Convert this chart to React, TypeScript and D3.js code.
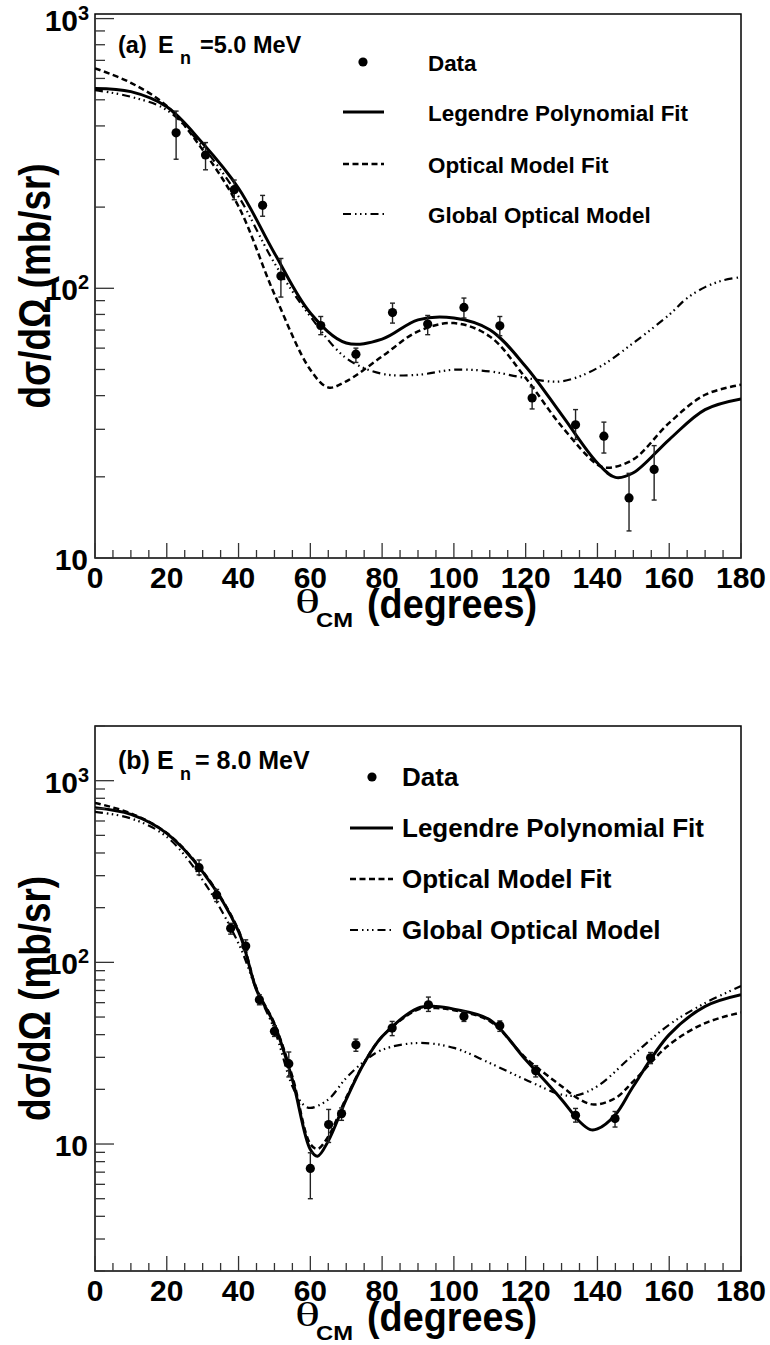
import * as d3 from 'd3';
import React from 'react';

// ---- panel (a): En = 5.0 MeV ----
const dataAngles5 = [22.6, 30.8, 38.8, 46.7, 51.8, 62.9, 72.7, 82.9, 92.7, 102.8, 112.8, 121.8, 133.9, 141.8, 148.8, 155.8];
const dataValues5 = [377, 312, 232, 203, 111, 72.8, 57.0, 81.3, 73.7, 84.9, 72.6, 39.2, 31.2, 28.3, 16.7, 21.3];
const dataHi5 = [454, 347, 252, 221, 129, 78.6, 60.0, 88.1, 79.3, 92, 78.6, 43.1, 35.5, 31.9, 20.6, 26.1];
const dataLo5 = [301, 275, 213, 185, 92.8, 67.3, 53.1, 74.3, 67.3, 77.6, 66.7, 35.7, 27.5, 24.5, 12.6, 16.4];

const legAngles5 = [0, 10, 20, 30, 40, 50, 60, 70, 80, 90, 100, 110, 120, 130, 140, 145, 150, 160, 170, 180];
const legValues5 = [551, 536, 471, 345, 235, 135, 81, 62.7, 64.8, 76.4, 77.6, 70.2, 51.3, 34.0, 22.5, 19.9, 20.7, 27.5, 35.5, 38.9];

const omAngles5 = [0, 10, 20, 30, 40, 50, 60, 65, 70, 80, 90, 100, 110, 120, 130, 140, 143, 150, 160, 170, 180];
const omValues5 = [654, 578, 474, 326, 201, 95, 49.9, 42.9, 45.2, 55.9, 69.2, 74.3, 66.3, 46.5, 30.8, 22.2, 21.6, 23.2, 31.7, 40.3, 43.9];

const gomAngles5 = [0, 10, 20, 30, 40, 50, 60, 70, 80, 90, 100, 110, 120, 130, 140, 150, 160, 165, 170, 175, 180];
const gomValues5 = [543, 513, 458, 335, 219, 124, 78.6, 55.1, 48.2, 47.8, 49.9, 49.2, 46.5, 45.2, 50.6, 62.7, 79.8, 92, 101, 107, 110];

// ---- panel (b): En = 8.0 MeV ----
const dataAngles8 = [29.0, 33.9, 37.8, 42.0, 45.8, 50.0, 54.0, 60.0, 65.1, 68.7, 72.7, 82.8, 92.9, 102.8, 112.8, 122.8, 133.9, 144.9, 154.8];
const dataValues8 = [332, 235, 154, 123, 62.2, 41.7, 27.7, 7.34, 12.8, 14.7, 35.2, 43.5, 58.4, 50.4, 44.8, 25.3, 14.4, 13.8, 29.8];
const dataHi8 = [366, 252, 164, 133, 66.3, 44.8, 32.1, 8.95, 15.5, 15.8, 37.8, 47.3, 64.4, 53.7, 47.6, 27.0, 15.7, 15.1, 31.9];
const dataLo8 = [303, 216, 143, 116, 58.4, 39.1, 23.4, 5.0, 10.2, 13.5, 32.4, 39.5, 53.7, 47.3, 41.7, 23.4, 13.2, 12.4, 27.7];

const legAngles8 = [0, 10, 20, 30, 40, 45, 50, 55, 60, 62, 65, 70, 75, 80, 90, 95, 100, 110, 120, 130, 135, 138, 140, 145, 150, 160, 170, 180];
const legValues8 = [709, 652, 513, 315, 148, 70.6, 45.4, 22.6, 9.33, 8.57, 10.4, 17.6, 27.9, 39.1, 56.0, 57.2, 55.3, 48.3, 29.1, 17.6, 13.3, 12.0, 12.1, 14.5, 20.8, 40.0, 57.2, 66.3];

const omAngles8 = [0, 10, 20, 30, 40, 45, 50, 55, 60, 62, 65, 70, 75, 80, 90, 95, 100, 110, 120, 130, 135, 139, 145, 150, 160, 170, 180];
const omValues8 = [755, 661, 515, 318, 150, 72, 46, 23.5, 10.0, 9.4, 11.0, 18, 28, 39, 55, 56, 54.5, 47.5, 29.8, 20.8, 17.6, 16.5, 17.9, 22.1, 35.2, 46.3, 53.0];

const gomAngles8 = [0, 10, 20, 30, 40, 45, 50, 55, 58, 60, 65, 70, 75, 80, 90, 100, 110, 120, 130, 134, 140, 150, 160, 170, 180];
const gomValues8 = [674, 620, 491, 284, 127, 70.6, 42.6, 20.8, 16.5, 15.8, 17.6, 23.1, 28.5, 33.0, 36.0, 33.8, 27.9, 22.6, 18.7, 18.5, 20.8, 31.0, 45.4, 59.7, 74];

const legendLabels = ["Data", "Legendre Polynomial Fit", "Optical Model Fit", "Global Optical Model"];
const xTickValues = [0, 20, 40, 60, 80, 100, 120, 140, 160, 180];
const yTickValues = [10, 100, 1000];

const FONT = "'Liberation Sans', Arial, Helvetica, sans-serif";
const SERIF = "'Liberation Serif', 'Times New Roman', serif";

const lineStyles = [
  { dash: "", width: 3 },
  { dash: "6 3.5", width: 2.5 },
  { dash: "8 4 1.5 3.5 1.5 3.5 1.5 4", width: 2.2 },
];

function Panel(props: any) {
  const { id, top, bottom, yDomain, data, curves, label, legend } = props;
  const left = 95;
  const right = 741;

  const x = d3.scaleLinear().domain([0, 180]).range([left, right]);
  const y = d3.scaleLog().domain(yDomain).range([bottom, top]);

  const line = d3.line<[number, number]>()
    .x(d => x(d[0]))
    .y(d => y(d[1]))
    .curve(d3.curveCatmullRom.alpha(0.5));

  // log ticks
  const yMajor: number[] = [];
  const yMinor: number[] = [];
  const lo = Math.floor(Math.log10(yDomain[0]));
  const hi = Math.ceil(Math.log10(yDomain[1]));
  for (let e = lo; e <= hi; e++) {
    for (let k = 1; k <= 9; k++) {
      const v = k * Math.pow(10, e);
      if (v < yDomain[0] * 0.999 || v > yDomain[1] * 1.001) continue;
      if (k === 1) yMajor.push(v); else yMinor.push(v);
    }
  }
  const xMinor = d3.range(0, 181, 5).filter(v => v % 20 !== 0);

  return (
    <g>
      <defs>
        <clipPath id={"clip-" + id}>
          <rect x={left} y={top} width={right - left} height={bottom - top} />
        </clipPath>
      </defs>

      {/* curves */}
      <g clipPath={`url(#clip-${id})`} fill="none" stroke="#000">
        {curves.map((c: any, i: number) => (
          <path
            key={i}
            d={line(c.angles.map((a: number, j: number) => [a, c.values[j]]) as [number, number][]) || ""}
            strokeWidth={lineStyles[i].width}
            strokeDasharray={lineStyles[i].dash}
            strokeLinejoin="round"
          />
        ))}
      </g>

      {/* data with error bars */}
      <g>
        {data.angles.map((a: number, i: number) => (
          <g key={i}>
            <line x1={x(a)} x2={x(a)} y1={y(data.hi[i])} y2={y(data.lo[i])} stroke="#222" strokeWidth={1.4} />
            <line x1={x(a) - 2.5} x2={x(a) + 2.5} y1={y(data.hi[i])} y2={y(data.hi[i])} stroke="#222" strokeWidth={1.4} />
            <line x1={x(a) - 2.5} x2={x(a) + 2.5} y1={y(data.lo[i])} y2={y(data.lo[i])} stroke="#222" strokeWidth={1.4} />
            <circle cx={x(a)} cy={y(data.values[i])} r={4.6} fill="#000" />
          </g>
        ))}
      </g>

      {/* frame */}
      <rect x={left} y={top} width={right - left} height={bottom - top} fill="none" stroke="#000" strokeWidth={1.5} />

      {/* y ticks */}
      <g stroke="#333" strokeWidth={1.3}>
        {yMajor.map(v => <line key={"M" + v} x1={left} x2={left + 19} y1={y(v)} y2={y(v)} />)}
        {yMinor.map(v => <line key={"m" + v} x1={left} x2={left + 10} y1={y(v)} y2={y(v)} />)}
      </g>
      {/* x ticks */}
      <g stroke="#333" strokeWidth={1.3}>
        {xTickValues.map(v => <line key={"M" + v} x1={x(v)} x2={x(v)} y1={bottom} y2={bottom - 15} />)}
        {xMinor.map(v => <line key={"m" + v} x1={x(v)} x2={x(v)} y1={bottom} y2={bottom - 8} />)}
      </g>

      {/* tick labels */}
      <g fontFamily={FONT} fontWeight="bold" fill="#000">
        {xTickValues.map(v => (
          <text key={v} x={x(v)} y={bottom + 30} fontSize={30} textAnchor="middle">{v}</text>
        ))}
        {yTickValues.map(v => {
          const e = Math.round(Math.log10(v));
          if (e === 1) {
            return <text key={v} x={left - 7} y={y(v) + 12} fontSize={30} textAnchor="end">10</text>;
          }
          return (
            <g key={v}>
              <text x={left - 17} y={y(v) + 12} fontSize={30} textAnchor="end">10</text>
              <text x={left - 17} y={y(v) + 1} fontSize={20}>{e}</text>
            </g>
          );
        })}
      </g>

      {/* axis titles */}
      <g fontFamily={FONT} fontWeight="bold" fill="#000">
        <text
          transform={`translate(50,${(top + bottom) / 2}) rotate(-90)`}
          fontSize={44}
          textAnchor="middle"
          textLength={245}
          lengthAdjust="spacingAndGlyphs"
        >dσ/dΩ (mb/sr)</text>
        <text x={295} y={bottom + 55} fontFamily={SERIF} fontWeight="normal" fontSize={34} textLength={25} lengthAdjust="spacingAndGlyphs">θ</text>
        <text x={316} y={bottom + 69} fontSize={20} textLength={37} lengthAdjust="spacingAndGlyphs">CM</text>
        <text x={367} y={bottom + 60} fontSize={40} textLength={170} lengthAdjust="spacingAndGlyphs">(degrees)</text>
      </g>

      {/* panel label */}
      <g fontFamily={FONT} fontWeight="bold" fill="#000" fontSize={label.size}>
        <text x={118} y={top + label.dy}>{label.tag}</text>
        <text x={label.eX} y={top + label.dy}>E</text>
        <text x={180} y={top + label.dy + 11} fontSize={18}>n</text>
        <text x={label.restX} y={top + label.dy}>{label.rest}</text>
      </g>

      {/* legend */}
      <g fontFamily={FONT} fontWeight="bold" fill="#000" fontSize={legend.size}>
        {legendLabels.map((t, i) => {
          const ry = top + legend.rows[i];
          return (
            <g key={t}>
              {i === 0
                ? <circle cx={legend.dotX} cy={ry} r={4.6} fill="#000" />
                : <line x1={legend.lineX[0]} x2={legend.lineX[1]} y1={ry} y2={ry} stroke="#000"
                    strokeWidth={lineStyles[i - 1].width} strokeDasharray={lineStyles[i - 1].dash} />}
              <text x={legend.textX} y={ry + 9}>{t}</text>
            </g>
          );
        })}
      </g>
    </g>
  );
}

export default function App() {
  const panelA = {
    id: "a",
    top: 14,
    bottom: 558,
    yDomain: [10, 1040],
    data: { angles: dataAngles5, values: dataValues5, hi: dataHi5, lo: dataLo5 },
    curves: [
      { angles: legAngles5, values: legValues5 },
      { angles: omAngles5, values: omValues5 },
      { angles: gomAngles5, values: gomValues5 },
    ],
    label: { tag: "(a)", rest: "=5.0 MeV", size: 23.5, dy: 39, eX: 158, restX: 200 },
    legend: { size: 22.4, rows: [48, 98, 150, 200], dotX: 363, lineX: [343, 384], textX: 428 },
  };
  const panelB = {
    id: "b",
    top: 726,
    bottom: 1271,
    yDomain: [2, 2000],
    data: { angles: dataAngles8, values: dataValues8, hi: dataHi8, lo: dataLo8 },
    curves: [
      { angles: legAngles8, values: legValues8 },
      { angles: omAngles8, values: omValues8 },
      { angles: gomAngles8, values: gomValues8 },
    ],
    label: { tag: "(b)", rest: "= 8.0 MeV", size: 25, dy: 43, eX: 157, restX: 195 },
    legend: { size: 26, rows: [51, 102, 153, 204], dotX: 372, lineX: [350, 393], textX: 402 },
  };

  return (
    <div style={{ position: "absolute", left: 0, top: 0 }}>
      <svg width={770} height={1345} style={{ display: "block", background: "#fff" }}>
        <Panel {...panelA} />
        <Panel {...panelB} />
      </svg>
    </div>
  );
}
